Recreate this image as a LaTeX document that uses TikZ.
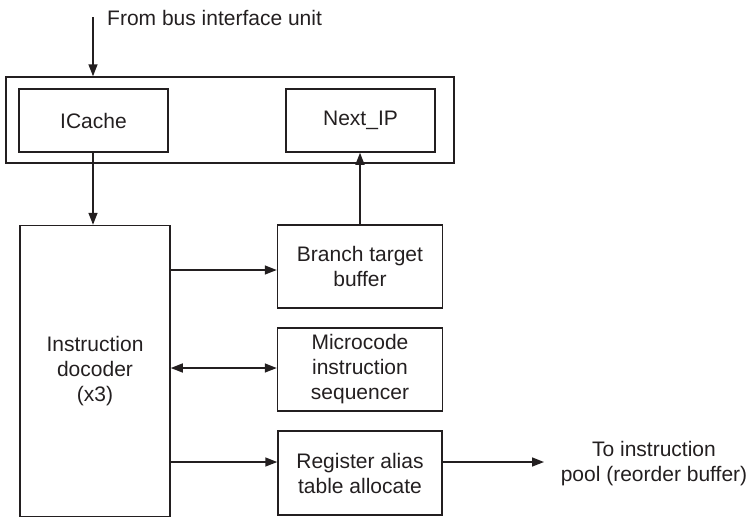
\documentclass[tikz,border=0pt]{standalone}
\usepackage{fontspec}
\setmainfont{Liberation Sans}
\usetikzlibrary{arrows.meta}
\definecolor{ink}{HTML}{231F20}
\begin{document}
\begin{tikzpicture}[x=1pt,y=-1pt,
  every node/.style={font=\fontsize{21}{25}\selectfont, text=ink},
  blk/.style={draw=ink, line width=1.5pt, inner sep=0pt, align=center},
  conn/.style={draw=ink, line width=1.5pt, -{Triangle[length=12pt,width=9pt]}},
  conn2/.style={draw=ink, line width=1.5pt, {Triangle[length=12pt,width=9pt]}-{Triangle[length=12pt,width=9pt]}}]
\useasboundingbox (0,0) rectangle (750,517);
% outer box
\node[blk, minimum width=448pt, minimum height=86pt] (outer) at (230,120) {};
\node[blk, minimum width=149pt, minimum height=63pt] (icache) at (93.5,120.5) {ICache};
\node[blk, minimum width=149pt, minimum height=63pt] (nextip) at (360.5,120.5) {Next\_IP};
\node[blk, minimum width=150pt, minimum height=291pt] (dec) at (95,371) {Instruction\\docoder\\(x3)};
\node[blk, minimum width=165pt, minimum height=83pt] (btb) at (360,266.5) {Branch target\\buffer};
\node[blk, minimum width=165pt, minimum height=83pt] (mis) at (360,369.5) {Microcode\\instruction\\sequencer};
\node[blk, minimum width=164pt, minimum height=84pt] (rat) at (360,473) {Register alias\\table allocate};
\coordinate (src) at (93,17);
\node[anchor=west, inner sep=0pt] (from) at (107,18) {From bus interface unit};
\node[align=center, inner sep=0pt] (pool) at (654,463.5) {To instruction\\pool (reorder buffer)};
\coordinate (poolin) at (544,462);
% connectors
\draw[conn] (src) -- (outer.north -| src);
\draw[conn] (icache.south -| src) -- (dec.north -| src);
\draw[conn] (btb.north) -- (btb.north |- nextip.south);
\draw[conn] (dec.east |- 0,270) -- (btb.west |- 0,270);
\draw[conn2] (dec.east |- 0,368) -- (mis.west |- 0,368);
\draw[conn] (dec.east |- 0,462) -- (rat.west |- 0,462);
\draw[conn] (rat.east |- poolin) -- (poolin);
\end{tikzpicture}
\end{document}
